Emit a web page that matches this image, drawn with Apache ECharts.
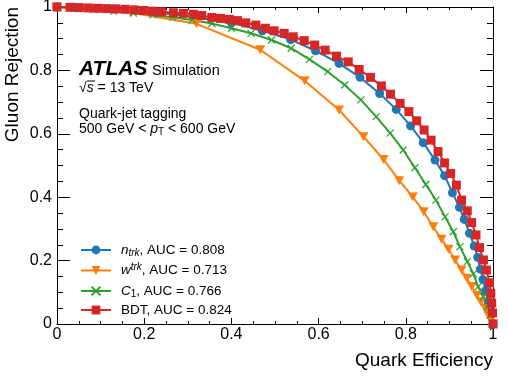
<!DOCTYPE html>
<html><head><meta charset="utf-8">
<script src="https://cdn.jsdelivr.net/npm/echarts@6/dist/echarts.min.js"></script>
<style>html,body{margin:0;padding:0;background:#fff}#c{width:508px;height:387px}</style>
</head><body><div id="c"></div>
<script>
// ---- data ----
const tickLabels = ['0', '0.2', '0.4', '0.6', '0.8', '1'];
const seriesNames = ['ntrk', 'wtrk', 'C1', 'BDT'];
const legendLabels = [
  '{i|n}{sub|trk}{t|, AUC = 0.808}',
  '{i|w}{sup|trk}{t|, AUC = 0.713}',
  '{i|C}{subn|1}{t|, AUC = 0.766}',
  '{t|BDT, AUC = 0.824}'
];
const ntrkX = [0, 0.04, 0.13, 0.23, 0.32, 0.40, 0.471, 0.536, 0.593, 0.647, 0.695, 0.740, 0.778, 0.811, 0.840, 0.867, 0.889, 0.907, 0.923, 0.934, 0.946, 0.957, 0.965, 0.971, 0.977, 0.983, 0.989, 0.994, 1];
const ntrkY = [1, 0.999, 0.994, 0.983, 0.968, 0.950, 0.925, 0.897, 0.862, 0.822, 0.778, 0.727, 0.677, 0.625, 0.572, 0.517, 0.468, 0.414, 0.368, 0.330, 0.286, 0.246, 0.210, 0.173, 0.140, 0.105, 0.070, 0.035, 0];
const wtrkX = [0, 0.17, 0.32, 0.466, 0.568, 0.647, 0.703, 0.749, 0.785, 0.816, 0.841, 0.863, 0.882, 0.898, 0.913, 0.928, 0.940, 0.951, 0.963, 0.972, 0.982, 0.989, 0.995, 1];
const wtrkY = [1, 0.982, 0.947, 0.865, 0.767, 0.675, 0.591, 0.519, 0.452, 0.401, 0.354, 0.307, 0.267, 0.236, 0.202, 0.170, 0.144, 0.118, 0.091, 0.070, 0.049, 0.028, 0.013, 0];
const c1X = [0, 0.04, 0.085, 0.13, 0.175, 0.22, 0.265, 0.31, 0.355, 0.40, 0.445, 0.492, 0.537, 0.579, 0.621, 0.66, 0.697, 0.732, 0.764, 0.794, 0.821, 0.846, 0.869, 0.89, 0.909, 0.924, 0.941, 0.955, 0.966, 0.978, 0.987, 0.993, 1];
const c1Y = [1, 0.997, 0.992, 0.987, 0.981, 0.975, 0.968, 0.959, 0.948, 0.933, 0.917, 0.896, 0.870, 0.835, 0.796, 0.754, 0.707, 0.654, 0.602, 0.549, 0.493, 0.440, 0.391, 0.338, 0.291, 0.244, 0.197, 0.158, 0.118, 0.086, 0.055, 0.028, 0];
const bdtX = [0, 0.030, 0.051, 0.072, 0.093, 0.114, 0.135, 0.156, 0.177, 0.198, 0.219, 0.240, 0.267, 0.290, 0.313, 0.332, 0.355, 0.375, 0.395, 0.414, 0.433, 0.456, 0.478, 0.498, 0.521, 0.542, 0.567, 0.591, 0.615, 0.641, 0.668, 0.693, 0.719, 0.744, 0.765, 0.787, 0.807, 0.825, 0.842, 0.858, 0.874, 0.889, 0.903, 0.916, 0.928, 0.941, 0.951, 0.961, 0.969, 0.978, 0.985, 0.992, 0.995, 0.997, 0.999, 1];
const bdtY = [1.0, 0.999, 0.998, 0.997, 0.996, 0.995, 0.994, 0.993, 0.991, 0.989, 0.987, 0.985, 0.982, 0.980, 0.977, 0.973, 0.967, 0.964, 0.961, 0.957, 0.950, 0.943, 0.933, 0.925, 0.917, 0.906, 0.894, 0.880, 0.864, 0.845, 0.827, 0.803, 0.778, 0.751, 0.725, 0.696, 0.670, 0.641, 0.612, 0.580, 0.544, 0.508, 0.475, 0.438, 0.391, 0.357, 0.320, 0.281, 0.241, 0.202, 0.170, 0.130, 0.097, 0.066, 0.035, 0];

// ---- chart ----
const FONT = 'Liberation Sans, Arial, Helvetica, sans-serif';
const colors = ['#1f77b4', '#ff7f0e', '#2ca02c', '#d62728'];
const zip = (xs, ys) => xs.map((x, i) => [x, ys[i]]);
const labelFmt = v => tickLabels[Math.round(v / 0.2)];

function mkAxis(kind, pos, showLabel) {
  const isX = kind === 'x';
  return {
    type: 'value', position: pos, min: 0, max: 1, interval: 0.2,
    axisLine: {show: true, onZero: false, lineStyle: {color: '#000', width: 1}},
    axisTick: {show: true, inside: true, length: isX ? 6 : 13, lineStyle: {color: '#000', width: 1}},
    minorTick: {show: true, splitNumber: 4, length: isX ? 3 : 6, lineStyle: {color: '#000', width: 1}},
    splitLine: {show: false}, minorSplitLine: {show: false},
    axisLabel: {show: showLabel, formatter: labelFmt, color: '#000', fontFamily: FONT, fontSize: 16,
                margin: isX ? 3 : 5, showMinLabel: true, showMaxLabel: true, hideOverlap: false}
  };
}

function mkSeries(name, xs, ys, color, symbol, size, extraItem) {
  return {
    name, type: 'line', data: zip(xs, ys), smooth: false,
    symbol, symbolSize: size, showAllSymbol: true,
    lineStyle: {color, width: 2}, itemStyle: Object.assign({color}, extraItem || {}),
    emphasis: {disabled: true}, animation: false, clip: true, z: 3
  };
}

const tokBase = {fontFamily: FONT, color: '#000', lineHeight: 14};
const legendRich = {
  t: Object.assign({fontSize: 13.5}, tokBase),
  i: Object.assign({fontSize: 13.5, fontStyle: 'italic'}, tokBase),
  sub: Object.assign({fontSize: 10, fontStyle: 'italic', padding: [6, 0, 0, 0]}, tokBase),
  sup: Object.assign({fontSize: 10, fontStyle: 'italic', padding: [0, 0, 7, 0]}, tokBase),
  subn: Object.assign({fontSize: 10, padding: [6, 0, 0, 0]}, tokBase)
};
const annRich = {
  n: {fontFamily: FONT, fontSize: 14, color: '#000', lineHeight: 16},
  i: {fontFamily: FONT, fontSize: 14, fontStyle: 'italic', color: '#000', lineHeight: 16},
  sub: {fontFamily: FONT, fontSize: 10, color: '#000', lineHeight: 16, padding: [6, 0, 0, 0]}
};

const chart = echarts.init(document.getElementById('c'), null, {renderer: 'canvas'});
chart.setOption({
  animation: false,
  backgroundColor: '#fff',
  grid: {left: 57, right: 15, top: 7, bottom: 63, containLabel: false, outerBoundsMode: 'none'},
  xAxis: [mkAxis('x', 'bottom', true), mkAxis('x', 'top', false)],
  yAxis: [mkAxis('y', 'left', true), mkAxis('y', 'right', false)],
  legend: {
    orient: 'vertical', left: 75, top: 237, itemWidth: 30, itemHeight: 11, itemGap: 4,
    data: seriesNames, selectedMode: false,
    formatter: n => legendLabels[seriesNames.indexOf(n)],
    textStyle: {fontFamily: FONT, fontSize: 13.5, color: '#000', padding: [0, 0, 0, 5], rich: legendRich}
  },
  series: [
    mkSeries(seriesNames[0], ntrkX, ntrkY, colors[0], 'circle', 9),
    mkSeries(seriesNames[1], wtrkX, wtrkY, colors[1], 'path://M0,0L10,0L5,9Z', [10, 9]),
    mkSeries(seriesNames[2], c1X, c1Y, colors[2], 'path://M0,0L10,10M0,10L10,0', 7,
             {borderColor: colors[2], borderWidth: 1.2}),
    mkSeries(seriesNames[3], bdtX, bdtY, colors[3], 'rect', 9)
  ],
  graphic: [
    {type: 'text', x: 493, y: 361, silent: true,
     style: {text: 'Quark Efficiency', fontFamily: FONT, fontSize: 19, fill: '#000', align: 'right', verticalAlign: 'middle'}},
    {type: 'text', x: 13, y: 7, rotation: Math.PI / 2, silent: true,
     style: {text: 'Gluon Rejection', fontFamily: FONT, fontSize: 19, fill: '#000', align: 'right', verticalAlign: 'middle'}},
    {type: 'text', x: 79, y: 69, silent: true,
     style: {text: 'ATLAS', fontFamily: FONT, fontSize: 21, fontWeight: 'bold', fontStyle: 'italic', fill: '#000', align: 'left', verticalAlign: 'middle'}},
    {type: 'text', x: 152, y: 71, silent: true,
     style: {text: 'Simulation', fontFamily: FONT, fontSize: 14.5, fill: '#000', align: 'left', verticalAlign: 'middle'}},
    {type: 'text', x: 79, y: 88, silent: true,
     style: {text: '{n|√}{i|s}{n| = 13 TeV}', rich: annRich, align: 'left', verticalAlign: 'middle'}},
    {type: 'line', silent: true, shape: {x1: 87, y1: 81, x2: 95, y2: 81}, style: {stroke: '#000', lineWidth: 1}},
    {type: 'text', x: 79, y: 114, silent: true,
     style: {text: '{n|Quark-jet tagging}', rich: annRich, align: 'left', verticalAlign: 'middle'}},
    {type: 'text', x: 79, y: 129, silent: true,
     style: {text: '{n|500 GeV < }{i|p}{sub|T}{n| < 600 GeV}', rich: annRich, align: 'left', verticalAlign: 'middle'}}
  ]
});
</script>
</body></html>
